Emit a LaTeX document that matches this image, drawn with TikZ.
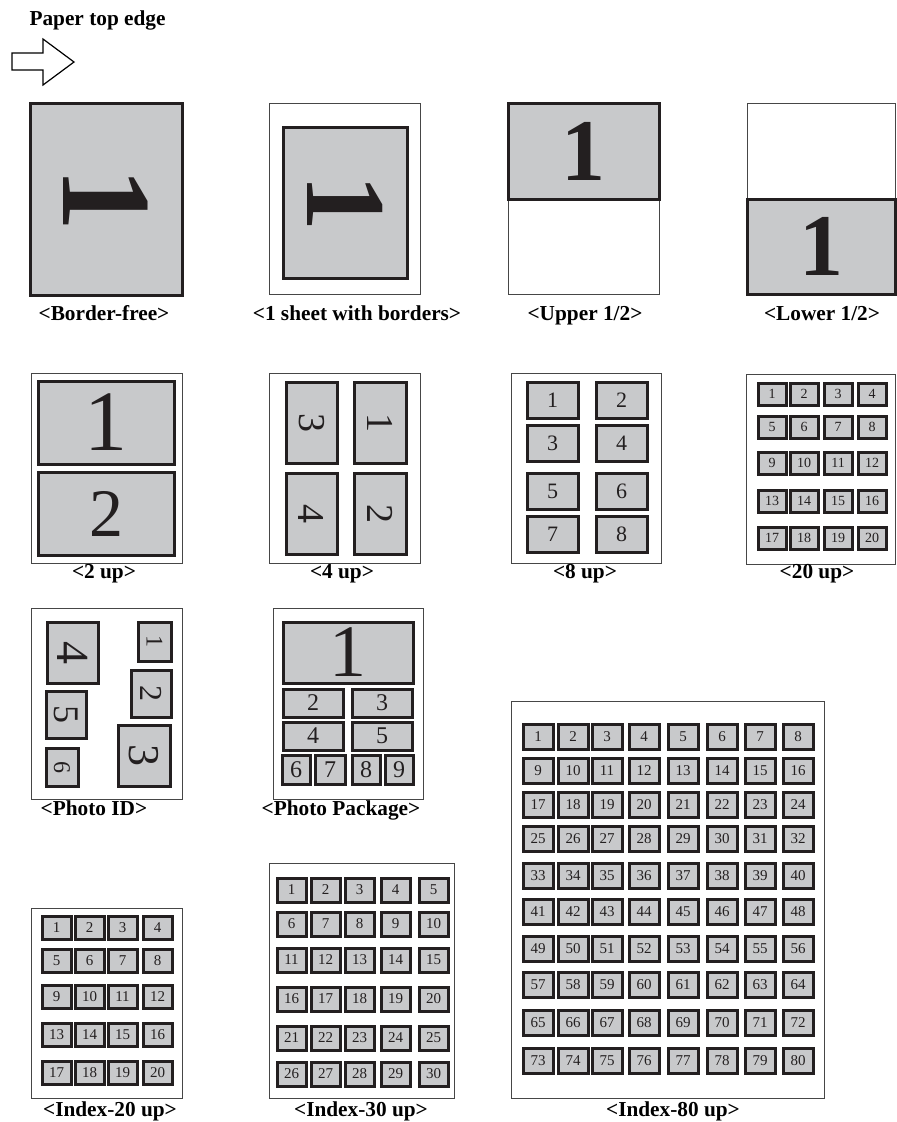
\documentclass[tikz,border=0pt]{standalone}
\usepackage{fontspec}
\setmainfont{Liberation Serif}
\usepackage{tikz}

\definecolor{tilegray}{RGB}{200,201,203}
\definecolor{inkblack}{RGB}{35,31,32}
\definecolor{sheetline}{RGB}{70,70,70}

\tikzset{
  sheet/.style={draw=sheetline,line width=1pt},
  tile/.style={draw=inkblack,fill=tilegray,line width=3pt},
  digit/.style={text=inkblack,inner sep=0pt},
  caption/.style={font=\bfseries\fontsize{21.3}{25}\selectfont,anchor=base},
}

% one grey page cell: [rotation]{x1}{y1}{x2}{y2}{font size}{text}
\newcommand\pagecell[7][0]{%
  \draw[tile] (#2,#3) rectangle (#4,#5);
  \node[digit,rotate=#1,font=\fontsize{#6}{#6}\selectfont]
    at ({(#2+#4)/2},{(#3+#5)/2}) {#7};}

% numbered grid: {columns}{x list}{y list}{width}{height}{font size}
\newcommand\cellgrid[6]{%
  \foreach \ya [count=\rowno from 0] in {#3}
    \foreach \xa [count=\colno from 0] in {#2} {
      \pgfmathtruncatemacro\num{\rowno*#1+\colno+1}
      \pagecell{\xa}{\ya}{\xa+#4}{\ya+#5}{#6}{\num}
    }}

\begin{document}
\begin{tikzpicture}[x=1pt,y=-1pt]
  \useasboundingbox (0,0) rectangle (897,1122);
  % feed direction
  \node[caption,anchor=base west] (toplabel) at (26,25) {Paper top edge};
  \draw[line width=1.2pt,line join=miter]
    (12,53)--(43,53)--(43,39)--(74,62)--(43,85)--(43,70)--(12,70)--cycle;

  % row 1
  \pagecell[-90]{30}{103}{182}{295}{128}{\textbf{1}}
  \node[caption] (borderfree) at (104,320) {<Border-free>};

  \draw[sheet] (269,103) rectangle (420,294);
  \pagecell[-90]{283}{127}{407}{278}{114}{\textbf{1}}
  \node[caption] (withborders) at (357,320) {<1 sheet with borders>};

  \draw[sheet] (508,103) rectangle (659,294);
  \pagecell{508}{103}{659}{199}{88}{\textbf{1}}
  \node[caption] (upperhalf) at (585,320) {<Upper 1/2>};

  \draw[sheet] (747,103) rectangle (895.5,294);
  \pagecell{747}{199}{895.5}{294}{88}{\textbf{1}}
  \node[caption] (lowerhalf) at (822,320) {<Lower 1/2>};

  % row 2
  \draw[sheet] (31,373) rectangle (182,563);
  \pagecell{38}{381}{174}{464}{86}{1}
  \pagecell{38}{472}{174}{555}{68}{2}
  \node[caption] (twoup) at (104,578) {<2 up>};

  \draw[sheet] (269,373) rectangle (420,563);
  \pagecell[-90]{286}{382}{337}{463}{38}{3}
  \pagecell[-90]{354}{382}{406}{463}{38}{1}
  \pagecell[-90]{286}{473}{337}{554}{38}{4}
  \pagecell[-90]{354}{473}{406}{554}{38}{2}
  \node[caption] (fourup) at (342,578) {<4 up>};

  \draw[sheet] (511,373) rectangle (661,563);
  \cellgrid{2}{527,596}{382,425,473,516}{51}{36}{22}
  \node[caption] (eightup) at (585,578) {<8 up>};

  \draw[sheet] (746,374) rectangle (895.5,564);
  \cellgrid{4}{758,790,824,858}{383,416,452,490,527}{28}{22}{14}
  \node[caption] (twentyup) at (817,578) {<20 up>};

  % row 3
  \draw[sheet] (31,608) rectangle (182,799);
  \pagecell[-90]{47}{622}{98}{683}{46}{4}
  \pagecell[-90]{138}{622}{171}{661}{24}{1}
  \pagecell[-90]{131}{670}{171}{717}{32}{2}
  \pagecell[-90]{46}{691}{86}{738}{36}{5}
  \pagecell[-90]{118}{725}{170}{786}{44}{3}
  \pagecell[-90]{46}{748}{78}{786}{24}{6}
  \node[caption] (photoid) at (94,815) {<Photo ID>};

  \draw[sheet] (273,608) rectangle (423,799);
  \pagecell{283}{622}{413}{683}{74}{1}
  \pagecell{283}{689}{343}{717}{24}{2}
  \pagecell{352}{689}{412}{717}{24}{3}
  \pagecell{283}{722}{343}{750}{24}{4}
  \pagecell{352}{722}{412}{750}{24}{5}
  \pagecell{282}{755}{310}{784}{24}{6}
  \pagecell{315}{755}{345}{784}{24}{7}
  \pagecell{352}{755}{380}{784}{24}{8}
  \pagecell{385}{755}{413}{784}{24}{9}
  \node[caption] (photopackage) at (341,815) {<Photo Package>};

  % row 4
  \draw[sheet] (31,908) rectangle (182,1098);
  \cellgrid{4}{42,75,108,143}{916,949,985,1023,1061}{29}{23}{15}
  \node[caption] (indextwenty) at (110,1116) {<Index-20 up>};

  \draw[sheet] (269,863) rectangle (454,1098);
  \cellgrid{5}{277,311,345,381,419}{878,912,948,987,1026,1062}{29}{24}{15}
  \node[caption] (indexthirty) at (361,1116) {<Index-30 up>};

  \draw[sheet] (511,701) rectangle (824,1098);
  \cellgrid{8}{523,558,592,629,668,707,745,783}%
    {724,758,792,826,863,899,936,972,1010,1048}{30}{25}{15}
  \node[caption] (indexeighty) at (673,1116) {<Index-80 up>};
\end{tikzpicture}
\end{document}
